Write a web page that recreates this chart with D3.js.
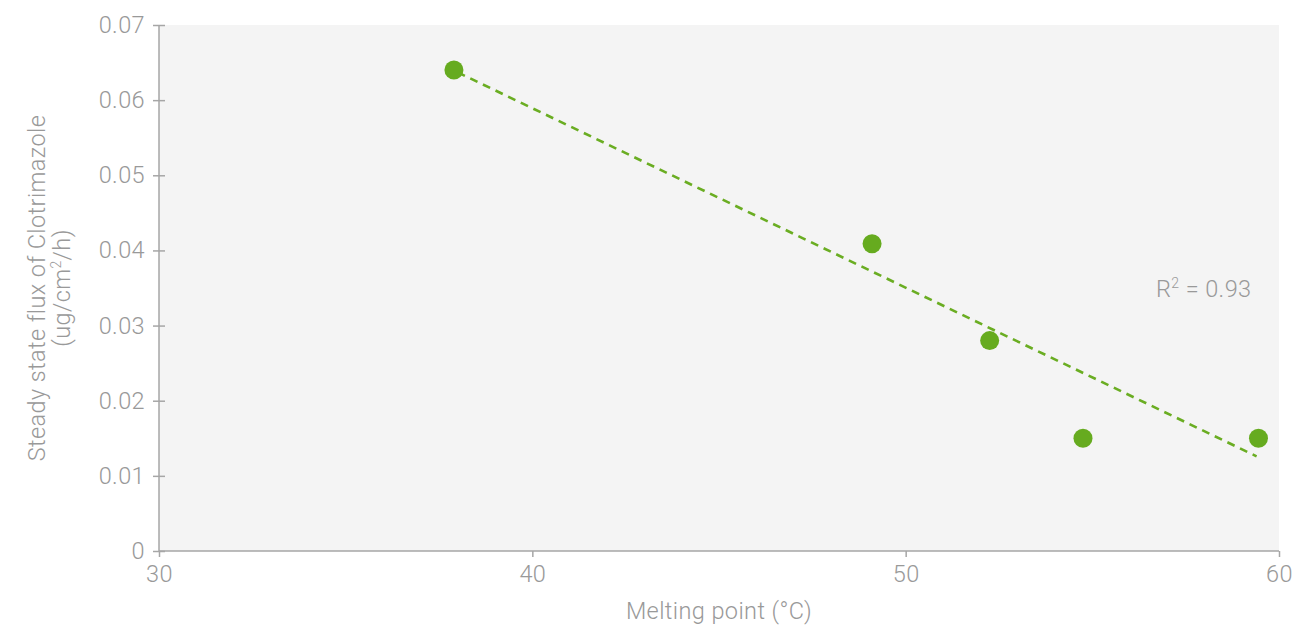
<!DOCTYPE html>
<html><head><meta charset="utf-8">
<script src="https://cdn.jsdelivr.net/npm/d3@7"></script>
<style>
html,body{margin:0;padding:0;background:#fff;}
text{font-family:Roboto,"Liberation Sans",sans-serif;font-weight:300;fill:#999;letter-spacing:0.4px;}
</style></head>
<body>
<svg id="c" width="1293" height="626"></svg>
<script>
const meltingPoint = [37.9, 49.1, 52.25, 54.75, 59.45];
const flux = [0.064, 0.0409, 0.028, 0.015, 0.015];
const trendX = [38.0, 59.4];
const trendY = [0.0637, 0.0126];
const xTicks = [30, 40, 50, 60];
const yTicks = [0, 0.01, 0.02, 0.03, 0.04, 0.05, 0.06, 0.07];
const rSquaredLabel = "0.93";

const FS = 23.5;
const svg = d3.select("#c");
const m = {left:159, right:1279, top:25, bottom:551};
const x = d3.scaleLinear().domain([30,60]).range([m.left,m.right]);
const y = d3.scaleLinear().domain([0,0.07]).range([m.bottom,m.top]);

svg.append("rect").attr("x",m.left).attr("y",m.top)
  .attr("width",m.right-m.left).attr("height",m.bottom-m.top).attr("fill","#f4f4f4");

const axisColor = "#a6a6a6";
const yAxis = svg.append("g").attr("transform",`translate(${m.left},0)`)
  .call(d3.axisLeft(y).tickValues(yTicks).tickSize(6).tickPadding(8)
    .tickFormat(d=> d===0 ? "0" : d3.format(".2f")(d)));
yAxis.selectAll(".tick line").attr("x2",-6).attr("x1",6);
const xAxis = svg.append("g").attr("transform",`translate(0,${m.bottom})`)
  .call(d3.axisBottom(x).tickValues(xTicks).tickSize(6).tickPadding(8).tickFormat(d3.format("d")));
[yAxis,xAxis].forEach(a=>{
  a.select(".domain").attr("stroke",axisColor).attr("stroke-width",1.5);
  a.selectAll(".tick line").attr("stroke",axisColor).attr("stroke-width",1.5);
  a.selectAll(".tick text").attr("font-size",FS).style("fill","#999")
   .attr("font-family","Roboto, 'Liberation Sans', sans-serif").attr("font-weight",300);
});
xAxis.select(".domain").attr("d",`M${m.left},0H${m.right}`);
yAxis.select(".domain").attr("d",`M0,${m.top}V${m.bottom}`);

// trendline
const trend = trendX.map((d,i)=>[d,trendY[i]]);
svg.append("path").datum(trend)
  .attr("d", d3.line().x(d=>x(d[0])).y(d=>y(d[1])))
  .attr("fill","none").attr("stroke","#6aad22").attr("stroke-width",2.6)
  .attr("stroke-dasharray","8,6");

// points
svg.selectAll("circle.pt").data(meltingPoint.map((d,i)=>[d,flux[i]]))
  .enter().append("circle").attr("class","pt")
  .attr("cx",d=>x(d[0])).attr("cy",d=>y(d[1])).attr("r",9.5)
  .attr("fill","#66ab1f");

// R² label
const rt = svg.append("text").attr("x",1156).attr("y",297).attr("font-size",FS);
rt.append("tspan").text("R");
rt.append("tspan").text("2").attr("font-size",14).attr("dy",-9);
rt.append("tspan").text(" = " + rSquaredLabel).attr("dy",9);

// axis titles
svg.append("text").attr("x",(m.left+m.right)/2).attr("y",619)
  .attr("text-anchor","middle").attr("font-size",FS).text("Melting point (°C)");
const yt = svg.append("g").attr("transform",`translate(0,${(m.top+m.bottom)/2}) rotate(-90)`);
yt.append("text").attr("x",0).attr("y",45).attr("text-anchor","middle").attr("font-size",FS)
  .text("Steady state flux of Clotrimazole");
const yt2 = yt.append("text").attr("x",0).attr("y",70).attr("text-anchor","middle").attr("font-size",FS);
yt2.append("tspan").text("(ug/cm");
yt2.append("tspan").text("2").attr("font-size",14).attr("dy",-9);
yt2.append("tspan").text("/h)").attr("dy",9);
</script>
</body></html>
